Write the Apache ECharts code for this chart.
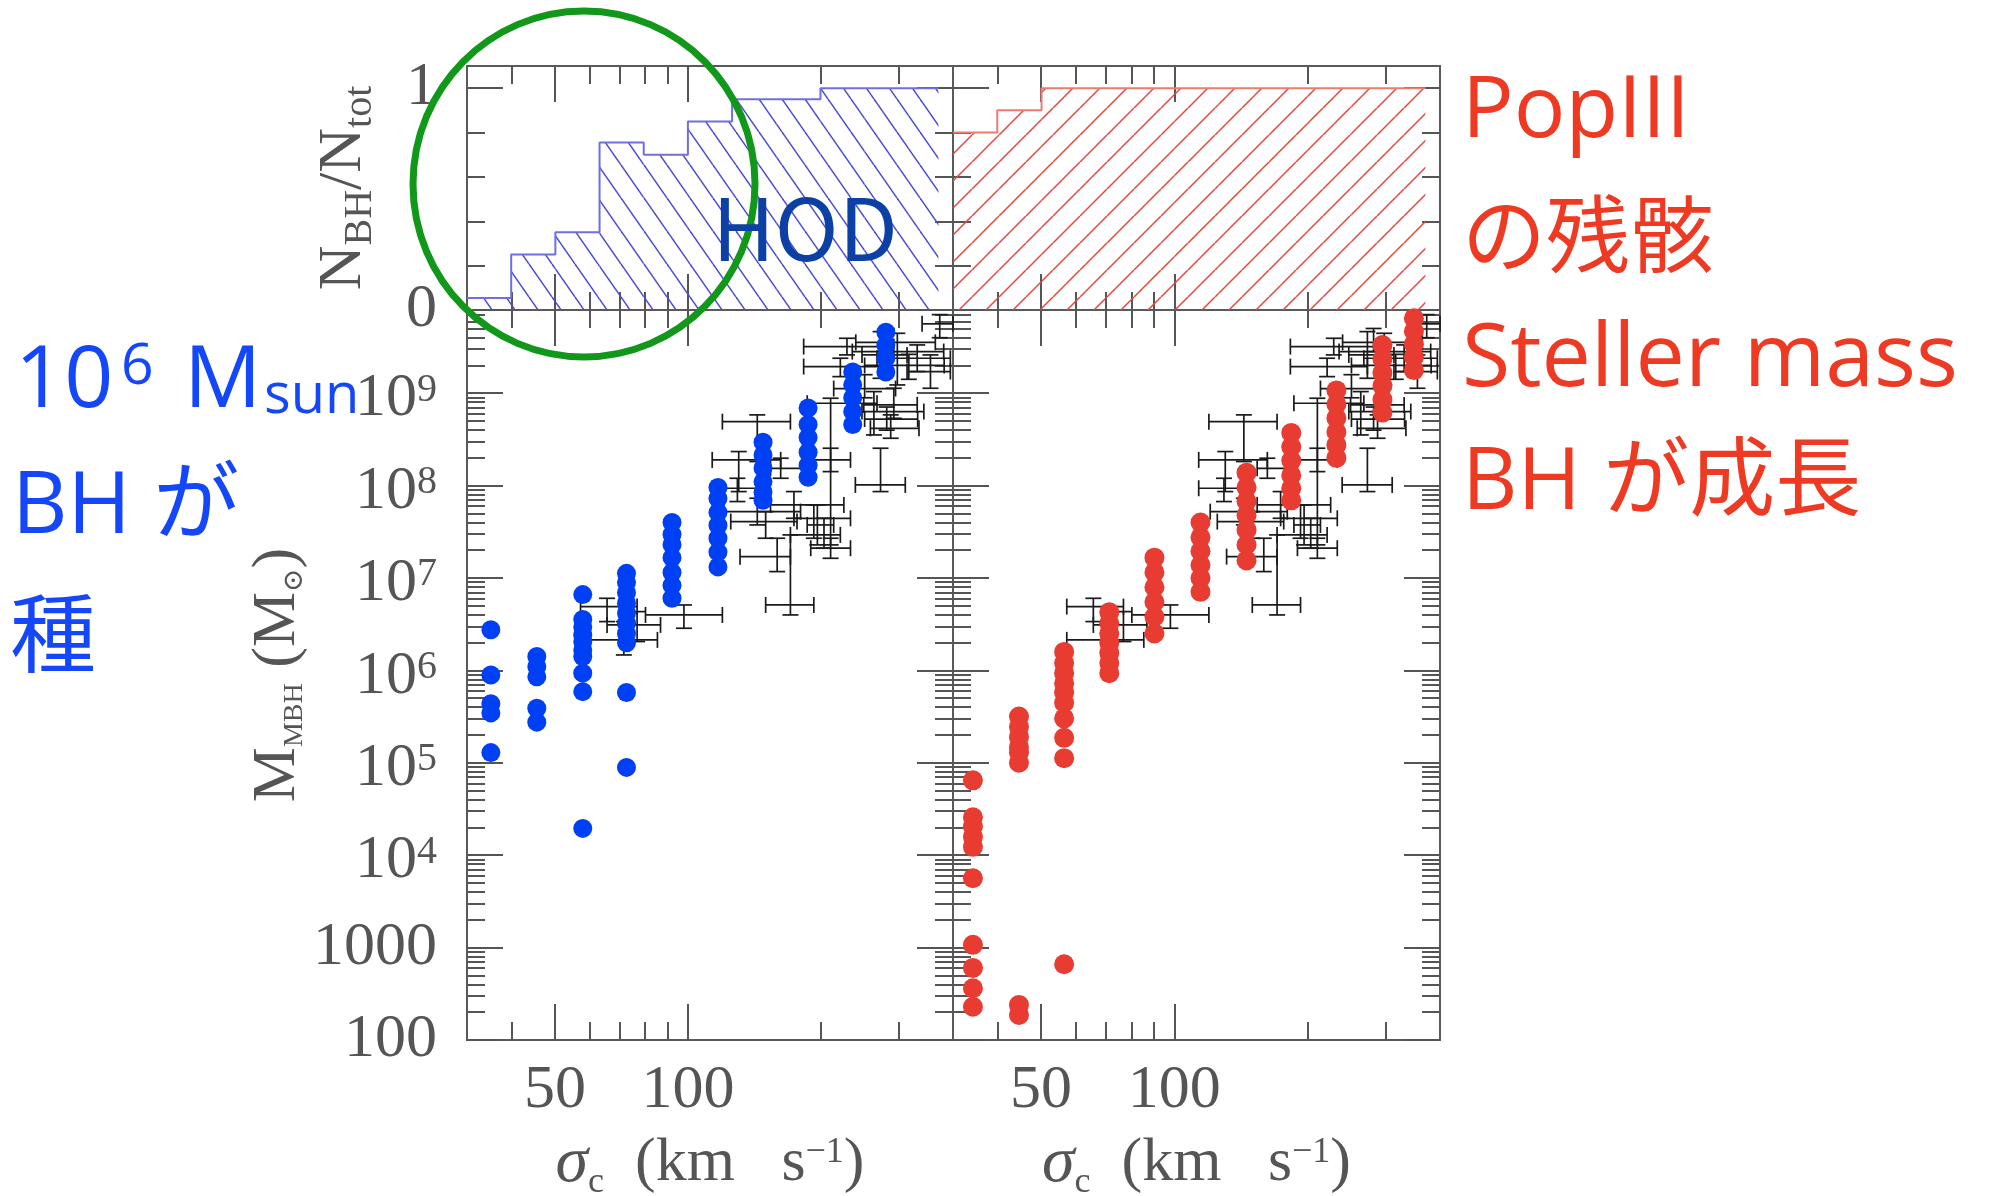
<!DOCTYPE html>
<html><head><meta charset="utf-8">
<script src="https://cdn.jsdelivr.net/npm/echarts@6/dist/echarts.min.js"></script>
<style>html,body{margin:0;padding:0;background:#fff}#c{width:1991px;height:1196px}</style>
</head><body><div id="c"></div>
<script>
// ---------------- data (log10 sigma [km/s], log10 M [Msun]) ----------------
const histEdges = [1.5, 1.6, 1.7, 1.8, 1.9, 2.0, 2.1, 2.2, 2.3, 2.4, 2.5, 2.567];
const hodFraction = [0.054, 0.25, 0.35, 0.755, 0.70, 0.85, 0.95, 0.95, 1, 1, 1];
const popIIIFraction = [0.80, 0.90, 1, 1, 1, 1, 1, 1, 1, 1, 1];

const blueLogSigma = [1.554, 1.658, 1.762, 1.861, 1.964, 2.068, 2.170, 2.272, 2.373, 2.448];
const blueLogMass = [
  [6.44, 5.95, 5.64, 5.54, 5.11],
  [6.15, 6.04, 5.93, 5.59, 5.44],
  [6.82, 6.55, 6.47, 6.38, 6.31, 6.22, 6.15, 5.97, 5.77, 4.29],
  [7.05, 6.95, 6.84, 6.73, 6.62, 6.51, 6.40, 6.30, 5.76, 4.95],
  [7.60, 7.47, 7.36, 7.22, 7.06, 6.92, 6.78],
  [7.98, 7.86, 7.71, 7.57, 7.43, 7.28, 7.12],
  [8.47, 8.33, 8.19, 8.04, 7.93, 7.84],
  [8.84, 8.66, 8.52, 8.36, 8.22, 8.09],
  [9.23, 9.09, 8.95, 8.80, 8.66],
  [9.66, 9.52, 9.38, 9.23]
];

const redLogSigma = [1.545, 1.649, 1.751, 1.853, 1.955, 2.059, 2.163, 2.264, 2.366, 2.470, 2.541];
const redLogMass = [
  [4.81, 4.41, 4.31, 4.20, 4.09, 3.75, 3.03, 2.78, 2.56, 2.36],
  [5.50, 5.39, 5.28, 5.17, 5.11, 5.00, 2.38, 2.27],
  [6.20, 6.08, 5.97, 5.86, 5.76, 5.65, 5.48, 5.27, 5.05, 2.82],
  [6.63, 6.51, 6.40, 6.30, 6.19, 6.08, 5.97],
  [7.22, 7.06, 6.90, 6.74, 6.58, 6.40],
  [7.60, 7.44, 7.29, 7.14, 7.00, 6.85],
  [8.14, 7.98, 7.83, 7.68, 7.52, 7.36, 7.19],
  [8.57, 8.42, 8.27, 8.11, 7.97, 7.84],
  [9.03, 8.88, 8.73, 8.58, 8.44, 8.30],
  [9.52, 9.37, 9.22, 9.08, 8.93, 8.79],
  [9.81, 9.67, 9.53, 9.39, 9.25]
];

// observed galaxies (error bars), same in both panels
const obsLogSigma   = [2.360,2.345,2.474,2.519,2.549,2.436,2.323,2.421,2.459,2.436,2.466,2.323,2.240,2.285,2.308,2.293,2.323,2.210,2.157,2.115,2.112,2.157,2.176,2.202,2.232,1.817,1.991,1.855,1.885,2.45,2.50,2.40,2.45,2.57];
const obsLogSigmaLo = [2.262,2.262,2.372,2.428,2.496,2.394,2.270,2.394,2.413,2.379,2.398,2.262,2.187,2.240,2.232,2.270,2.278,2.187,2.078,2.055,2.055,2.081,2.097,2.118,2.176,1.757,1.904,1.757,1.817,2.38,2.40,2.33,2.40,2.53];
const obsLogSigmaHi = [2.466,2.436,2.579,2.594,2.594,2.496,2.428,2.534,2.523,2.492,2.519,2.368,2.353,2.368,2.345,2.330,2.368,2.262,2.232,2.210,2.157,2.255,2.247,2.232,2.285,1.885,2.078,1.931,1.938,2.56,2.58,2.47,2.52,2.60];
const obsLogMass    = [9.504,9.288,9.450,9.378,9.234,9.414,8.891,8.801,8.620,8.007,8.873,8.278,7.791,7.646,7.466,7.574,7.322,8.187,8.692,8.278,7.971,7.718,7.610,7.231,6.708,6.690,6.600,6.330,6.492,9.55,9.30,9.05,8.72,9.75];
const obsLogMassLo  = [9.414,9.179,9.089,9.234,9.053,9.161,8.151,8.548,8.512,7.935,8.728,7.358,7.646,7.430,7.322,7.358,7.213,8.079,8.260,7.935,7.827,7.574,7.430,7.069,6.600,6.528,6.456,6.167,6.312,9.45,9.15,8.95,8.60,9.60];
const obsLogMassHi  = [9.594,9.378,9.648,9.522,9.414,9.666,8.945,9.017,8.765,8.404,9.053,8.404,7.935,7.791,7.646,7.791,7.430,8.296,8.765,8.368,8.079,7.863,7.718,7.430,7.466,6.780,6.708,6.528,6.636,9.70,9.42,9.20,8.85,9.85];

// ticks / labels
const sigmaMajorTicks = [50, 100];
const sigmaMinorTicks = [40, 60, 70, 80, 90, 200, 300];
const sigmaTickLabels = [50, 100];
const massDecades = [2, 3, 4, 5, 6, 7, 8, 9];
const massLabelDecades = [2, 3, 4, 5, 6, 7, 8, 9];
const fracMajorTicks = [0, 1];
const fracMinorTicks = [0.2, 0.4, 0.6, 0.8];
const fracTickLabels = [0, 1];

// ---------------- helpers ----------------
const SERIF = "'Liberation Serif','DejaVu Serif',serif";
const SANS = "'Noto Sans CJK JP','Noto Sans',sans-serif";
const LATIN = "'Open Sans','Noto Sans CJK JP',sans-serif";
const TXT = '#555555';
const TICK = { color: '#555', width: 2 };

const xMaj = sigmaMajorTicks.map(Math.log10);
const xMin = sigmaMinorTicks.map(Math.log10);
const yMassMaj = massDecades.slice();
const yMassMin = [];
massDecades.forEach(d => { for (let k = 2; k <= 9; k++) { const v = d + Math.log10(k); if (v < 9.9) yMassMin.push(v); } });

function hatch(color, w, h, dir) {
  const c = document.createElement('canvas'); c.width = w; c.height = h;
  const g = c.getContext('2d'); g.strokeStyle = color; g.lineWidth = 1.5;
  [-w, 0, w].forEach(off => {
    g.beginPath();
    if (dir === 'down') { g.moveTo(off, 0); g.lineTo(off + w, h); }
    else { g.moveTo(off, h); g.lineTo(off + w, 0); }
    g.stroke();
  });
  return { image: c, repeat: 'repeat' };
}
const bluePattern = hatch('#4b4bd6', 23, 33, 'down');
const redPattern = hatch('#e8453c', 27, 27, 'up');

const richMain = { fontFamily: SERIF, fontSize: 62, color: TXT, verticalAlign: 'middle', lineHeight: 66 };
const rich = {
  m: richMain,
  i: Object.assign({}, richMain, { fontStyle: 'italic', fontSize: 66 }),
  sub: { fontFamily: SERIF, fontSize: 36, color: TXT, verticalAlign: 'middle', lineHeight: 38, padding: [38, 0, 0, 0] },
  subs: { fontFamily: SERIF, fontSize: 40, color: TXT, verticalAlign: 'middle', lineHeight: 42, padding: [32, 0, 0, 0] },
  subm: { fontFamily: SERIF, fontSize: 28, color: TXT, verticalAlign: 'middle', lineHeight: 30, padding: [34, 0, 0, 0] },
  sup: { fontFamily: SERIF, fontSize: 36, color: TXT, verticalAlign: 'middle', lineHeight: 38, padding: [0, 0, 22, 0] }
};

const grids = [
  { left: 467, top: 66, width: 486, height: 244 },
  { left: 953, top: 66, width: 487, height: 244 },
  { left: 467, top: 310, width: 486, height: 730 },
  { left: 953, top: 310, width: 487, height: 730 }
].map(g => Object.assign(g, { show: true, containLabel: false, outerBoundsMode: 'none', borderColor: '#5a5a5a', borderWidth: 2, backgroundColor: 'transparent' }));

const xAxes = [], yAxes = [];
function baseAxis(gi, min, max, pos, len, ticks) {
  return {
    gridIndex: gi, type: 'value', min: min, max: max, position: pos,
    axisLine: { show: false, onZero: false },
    splitLine: { show: false },
    axisTick: { show: true, inside: true, length: len, customValues: ticks, lineStyle: TICK },
    axisLabel: { show: false }
  };
}
for (let gi = 0; gi < 4; gi++) {
  const top = gi < 2;
  const xb = baseAxis(gi, 1.5, 2.6, 'bottom', 36, xMaj);
  if (!top) {
    xb.axisLabel = {
      show: true, customValues: sigmaTickLabels.map(Math.log10), margin: 20,
      fontFamily: SERIF, fontSize: 62, color: TXT,
      formatter: v => String(Math.round(Math.pow(10, v)))
    };
    xb.name = '{i|σ}{sub|c}{m|  (km   s}{sup|−1}{m|)}';
    xb.nameLocation = 'middle';
    xb.nameGap = 80;
    xb.nameTextStyle = { rich: rich };
  }
  xAxes.push(xb, baseAxis(gi, 1.5, 2.6, 'bottom', 18, xMin),
             baseAxis(gi, 1.5, 2.6, 'top', 36, xMaj), baseAxis(gi, 1.5, 2.6, 'top', 18, xMin));
  const ymin = top ? 0 : 2, ymax = top ? 1.1 : 9.9;
  const maj = top ? fracMajorTicks : yMassMaj, mn = top ? fracMinorTicks : yMassMin;
  const yl = baseAxis(gi, ymin, ymax, 'left', 36, maj);
  if (gi === 0) {
    yl.axisLabel = { show: true, customValues: fracTickLabels, margin: 30, fontFamily: SERIF, fontSize: 62, color: TXT, formatter: v => String(Math.round(v)) };
    yl.name = '{m|N}{subs|BH}{m|/N}{subs|tot}';
    yl.nameLocation = 'middle'; yl.nameRotate = 90; yl.nameGap = 90;
    yl.nameTextStyle = { rich: rich };
  }
  if (gi === 2) {
    yl.axisLabel = {
      show: true, customValues: massLabelDecades, margin: 30,
      formatter: v => { const n = Math.round(v); return n <= 3 ? '{p|' + Math.pow(10, n) + '}' : '{b|10}{s|' + n + '}'; },
      rich: {
        p: { fontFamily: SERIF, fontSize: 62, color: TXT, verticalAlign: 'middle', lineHeight: 66 },
        b: { fontFamily: SERIF, fontSize: 62, color: TXT, verticalAlign: 'middle', lineHeight: 66, padding: [12, 0, 0, 0] },
        s: { fontFamily: SERIF, fontSize: 40, color: TXT, verticalAlign: 'middle', lineHeight: 42, padding: [0, 0, 6, 0] }
      }
    };
    yl.name = '{m|M}{subm|MBH}{m| (M}{subm|⊙}{m|)}';
    yl.nameLocation = 'middle'; yl.nameRotate = 90; yl.nameGap = 136;
    yl.nameTextStyle = { rich: rich };
  }
  yAxes.push(yl, baseAxis(gi, ymin, ymax, 'left', 18, mn),
             baseAxis(gi, ymin, ymax, 'right', 36, maj), baseAxis(gi, ymin, ymax, 'right', 18, mn));
}

function histData(vals) { return vals.map((v, i) => [histEdges[i], histEdges[i + 1], v]); }
function stepLine(vals) { const pts = []; vals.forEach((v, i) => { pts.push([histEdges[i], v], [histEdges[i + 1], v]); }); return pts; }
function histSeries(gi, vals, pattern, lineColor) {
  return [{
    type: 'custom', xAxisIndex: gi * 4, yAxisIndex: gi * 4, data: histData(vals), z: 2,
    renderItem: (p, api) => {
      const a = api.coord([api.value(0), api.value(2)]), b = api.coord([api.value(1), 0]);
      return { type: 'rect', shape: { x: a[0], y: a[1], width: b[0] - a[0], height: b[1] - a[1] }, style: { fill: pattern, stroke: null } };
    }
  }, {
    type: 'line', xAxisIndex: gi * 4, yAxisIndex: gi * 4, data: stepLine(vals), showSymbol: false, z: 3,
    lineStyle: { color: lineColor, width: 2 }
  }];
}
const obsData = obsLogSigma.map((s, i) => [s, obsLogSigmaLo[i], obsLogSigmaHi[i], obsLogMass[i], obsLogMassLo[i], obsLogMassHi[i]]);
function errSeries(gi) {
  return {
    type: 'custom', xAxisIndex: gi * 4, yAxisIndex: gi * 4, data: obsData, z: 2,
    renderItem: (p, api) => {
      const s = api.value(0), sl = api.value(1), sh = api.value(2), m = api.value(3), ml = api.value(4), mh = api.value(5);
      const L = api.coord([sl, m]), R = api.coord([sh, m]), T = api.coord([s, mh]), B = api.coord([s, ml]);
      const c = 8, st = { stroke: '#1a1a1a', lineWidth: 1.7 };
      const ln = (x1, y1, x2, y2) => ({ type: 'line', shape: { x1, y1, x2, y2 }, style: st });
      return { type: 'group', children: [
        ln(L[0], L[1], R[0], R[1]), ln(T[0], T[1], B[0], B[1]),
        ln(L[0], L[1] - c, L[0], L[1] + c), ln(R[0], R[1] - c, R[0], R[1] + c),
        ln(T[0] - c, T[1], T[0] + c, T[1]), ln(B[0] - c, B[1], B[0] + c, B[1])
      ] };
    }
  };
}
function scatterData(sig, mass) { const d = []; sig.forEach((s, i) => mass[i].forEach(m => d.push([s, m]))); return d; }

const series = [].concat(
  histSeries(0, hodFraction, bluePattern, '#6f6fe0'),
  histSeries(1, popIIIFraction, redPattern, '#ef7a72'),
  [errSeries(2), errSeries(3),
   { type: 'scatter', xAxisIndex: 8, yAxisIndex: 8, data: scatterData(blueLogSigma, blueLogMass), symbolSize: 19, itemStyle: { color: '#0040f5', opacity: 1 }, z: 4 },
   { type: 'scatter', xAxisIndex: 12, yAxisIndex: 12, data: scatterData(redLogSigma, redLogMass), symbolSize: 20, itemStyle: { color: '#e83c32', opacity: 1 }, z: 4 }]
);

const blueTxt = '#1447fa', redTxt = '#ee3a22';
function t(text, x, y, size, color, family, align) {
  return { type: 'text', z: 100, style: { text, x, y, fill: color, font: size + 'px ' + family, textAlign: align || 'left', textVerticalAlign: 'middle' } };
}
const graphic = [
  { type: 'ellipse', z: 100, shape: { cx: 584, cy: 184, rx: 171, ry: 173 }, style: { fill: 'none', stroke: '#11981a', lineWidth: 7 } },
  t('HOD', 805, 228, 86, '#0c40a4', SANS, 'center'),
  t('10', 15, 382, 86, blueTxt, LATIN), t('6', 121, 368, 57, blueTxt, LATIN), t('M', 184, 382, 86, blueTxt, LATIN), t('sun', 264, 397, 56, blueTxt, LATIN),
  t('BH が', 12, 508, 86, blueTxt, LATIN), t('種', 10, 633, 86, blueTxt, SANS),
  t('PopIII', 1462, 112, 86, redTxt, LATIN), t('の残骸', 1462, 234, 84, redTxt, SANS),
  t('Steller mass', 1462, 361, 88, redTxt, LATIN), t('BH が成長', 1462, 484, 86, redTxt, LATIN)
];

const chart = echarts.init(document.getElementById('c'), null, { renderer: 'canvas' });
chart.setOption({ animation: false, backgroundColor: '#fff', grid: grids, xAxis: xAxes, yAxis: yAxes, series, graphic });
</script></body></html>
